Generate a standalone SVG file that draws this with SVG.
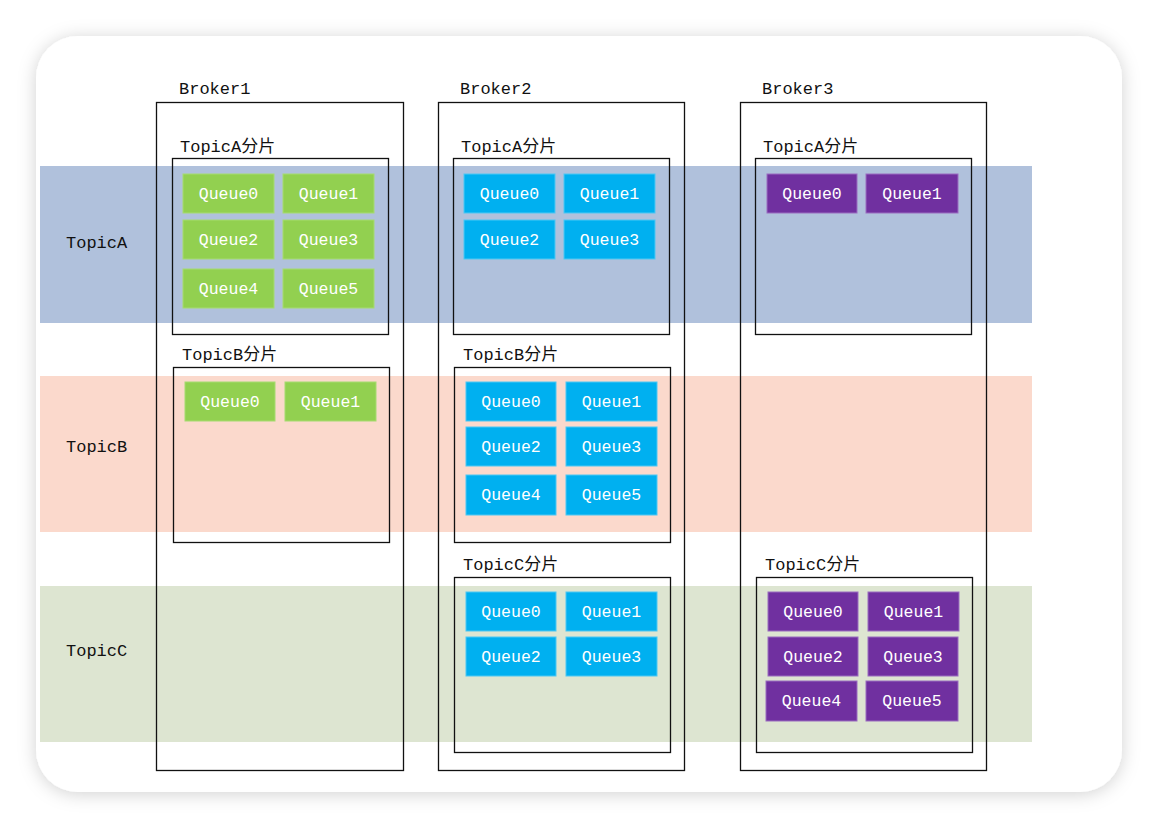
<svg xmlns="http://www.w3.org/2000/svg" width="1158" height="828" viewBox="0 0 1158 828">
<defs>
<filter id="sh" x="-10%" y="-10%" width="120%" height="120%">
<feDropShadow dx="0" dy="2" stdDeviation="9" flood-color="#000" flood-opacity="0.18"/>
</filter>
</defs>
<style>
text{font-family:"Liberation Mono","Noto Sans CJK SC",monospace;font-size:17px;fill:#111}
.q text{fill:#fff;text-anchor:middle;font-size:16.5px}
.g rect{fill:#92d050;stroke:#a6dc70;stroke-width:1}
.b rect{fill:#00b0f0;stroke:#4cc8f4;stroke-width:1}
.p rect{fill:#7030a0;stroke:#9a6cc0;stroke-width:1}
.box{fill:none;stroke:#111;stroke-width:1.3}
</style>
<rect width="1158" height="828" fill="#fff"/>
<rect x="36" y="36" width="1086" height="756" rx="42" fill="#fff" filter="url(#sh)"/>
<g id="bands">
<rect x="40" y="166" width="992" height="157" fill="#b0c1dc"/>
<rect x="40" y="376" width="992" height="156" fill="#fbd9cc"/>
<rect x="40" y="586" width="992" height="156" fill="#dde5d1"/>
<text x="66" y="248">TopicA</text>
<text x="66" y="452">TopicB</text>
<text x="66" y="656">TopicC</text>
</g>
<g id="broker1">
<text x="179" y="94">Broker1</text>
<rect class="box" x="156.5" y="102.5" width="247" height="668"/>
<text x="180" y="152">TopicA分片</text>
<rect class="box" x="172.5" y="158.5" width="216" height="176"/>
<g class="q g">
<rect x="183" y="174" width="91" height="39"/><text x="228.5" y="199">Queue0</text>
<rect x="283" y="174" width="91" height="39"/><text x="328.5" y="199">Queue1</text>
<rect x="183" y="220" width="91" height="39"/><text x="228.5" y="245">Queue2</text>
<rect x="283" y="220" width="91" height="39"/><text x="328.5" y="245">Queue3</text>
<rect x="183" y="269" width="91" height="39"/><text x="228.5" y="294">Queue4</text>
<rect x="283" y="269" width="91" height="39"/><text x="328.5" y="294">Queue5</text>
</g>
<text x="182" y="360">TopicB分片</text>
<rect class="box" x="173.5" y="367.5" width="216" height="175"/>
<g class="q g">
<rect x="185" y="382" width="90" height="39"/><text x="230" y="407">Queue0</text>
<rect x="285" y="382" width="91" height="39"/><text x="330.5" y="407">Queue1</text>
</g>
</g>
<g id="broker2">
<text x="460" y="94">Broker2</text>
<rect class="box" x="438.5" y="102.5" width="246" height="668"/>
<text x="461" y="152">TopicA分片</text>
<rect class="box" x="453.5" y="158.5" width="216" height="176"/>
<g class="q b">
<rect x="464" y="174" width="91" height="39"/><text x="509.5" y="199">Queue0</text>
<rect x="564" y="174" width="91" height="39"/><text x="609.5" y="199">Queue1</text>
<rect x="464" y="220" width="91" height="39"/><text x="509.5" y="245">Queue2</text>
<rect x="564" y="220" width="91" height="39"/><text x="609.5" y="245">Queue3</text>
</g>
<text x="463" y="360">TopicB分片</text>
<rect class="box" x="454.5" y="367.5" width="216" height="175"/>
<g class="q b">
<rect x="466" y="382" width="90" height="39"/><text x="511" y="407">Queue0</text>
<rect x="566" y="382" width="91" height="39"/><text x="611.5" y="407">Queue1</text>
<rect x="466" y="427" width="90" height="39"/><text x="511" y="452">Queue2</text>
<rect x="566" y="427" width="91" height="39"/><text x="611.5" y="452">Queue3</text>
<rect x="466" y="475" width="90" height="40"/><text x="511" y="500">Queue4</text>
<rect x="566" y="475" width="91" height="40"/><text x="611.5" y="500">Queue5</text>
</g>
<text x="463" y="570">TopicC分片</text>
<rect class="box" x="454.5" y="577.5" width="216" height="175"/>
<g class="q b">
<rect x="466" y="592" width="90" height="39"/><text x="511" y="617">Queue0</text>
<rect x="566" y="592" width="91" height="39"/><text x="611.5" y="617">Queue1</text>
<rect x="466" y="637" width="90" height="39"/><text x="511" y="662">Queue2</text>
<rect x="566" y="637" width="91" height="39"/><text x="611.5" y="662">Queue3</text>
</g>
</g>
<g id="broker3">
<text x="762" y="94">Broker3</text>
<rect class="box" x="740.5" y="102.5" width="246" height="668"/>
<text x="763" y="152">TopicA分片</text>
<rect class="box" x="755.5" y="158.5" width="216" height="176"/>
<g class="q p">
<rect x="767" y="174" width="90" height="39"/><text x="812" y="199">Queue0</text>
<rect x="866" y="174" width="92" height="39"/><text x="912" y="199">Queue1</text>
</g>
<text x="765" y="570">TopicC分片</text>
<rect class="box" x="756.5" y="577.5" width="216" height="175"/>
<g class="q p">
<rect x="768" y="592" width="90" height="39"/><text x="813" y="617">Queue0</text>
<rect x="868" y="592" width="91" height="39"/><text x="913.5" y="617">Queue1</text>
<rect x="768" y="637" width="90" height="39"/><text x="813" y="662">Queue2</text>
<rect x="868" y="637" width="90" height="39"/><text x="913" y="662">Queue3</text>
<rect x="766" y="681" width="91" height="40"/><text x="811.5" y="706">Queue4</text>
<rect x="866" y="681" width="92" height="40"/><text x="912" y="706">Queue5</text>
</g>
</g>
</svg>
